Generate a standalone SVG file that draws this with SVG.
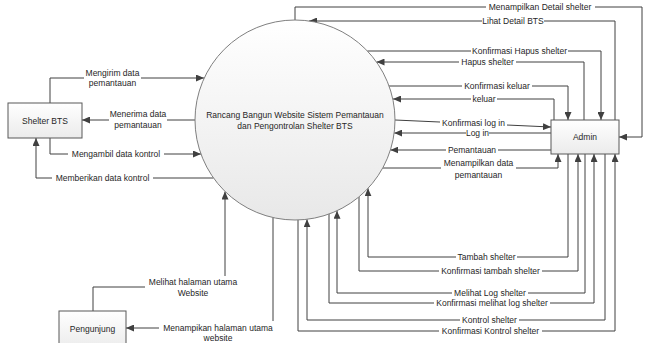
<svg xmlns="http://www.w3.org/2000/svg" width="650" height="343" viewBox="0 0 650 343">
<defs>
<linearGradient id="gc" x1="0" y1="0" x2="0" y2="1"><stop offset="0" stop-color="#ffffff"/><stop offset="1" stop-color="#e8e8e8"/></linearGradient>
<linearGradient id="gb" x1="0" y1="0" x2="0" y2="1"><stop offset="0" stop-color="#ffffff"/><stop offset="1" stop-color="#ebebeb"/></linearGradient>
<marker id="ar" markerWidth="8" markerHeight="7" refX="8" refY="3.5" orient="auto" markerUnits="userSpaceOnUse"><path d="M0,0 L8,3.5 L0,7 z" fill="#404040"/></marker>
</defs>
<style>
text{font-family:"Liberation Sans",Arial,sans-serif;font-size:8.5px;fill:#262626;text-anchor:middle}
.c{fill:none;stroke:#404040;stroke-width:1}
.a{marker-end:url(#ar)}
.bg{fill:#ffffff}
.box{fill:url(#gb);stroke:#595959;stroke-width:1}
</style>
<rect width="650" height="343" fill="#ffffff"/>
<g id="connectors">
<path class="c a" d="M50,103 V78 H204"/>
<path class="c a" d="M195,120 H82"/>
<path class="c a" d="M50,138 V154 H201"/>
<path class="c a" d="M213.5,178 H36 V138"/>
<path class="c a" d="M93,311 V287 H225 V191.5"/>
<path class="c a" d="M273,217.5 V328 H126"/>
<path class="c a" d="M295,20 V7 H642 V137 H619"/>
<path class="c a" d="M615,120 V21 H309"/>
<path class="c a" d="M367.4,51 H601 V120"/>
<path class="c a" d="M584,120 V62 H376.5"/>
<path class="c a" d="M389,86 H568 V120"/>
<path class="c a" d="M554,120 V99 H393"/>
<path class="c a" d="M395,120 L551,127"/>
<path class="c a" d="M551,133 H394.2"/>
<path class="c a" d="M551,150 H390.4"/>
<path class="c a" d="M382.7,168 H558 V154"/>
<path class="c a" d="M568,154 V257 H368 V188.3"/>
<path class="c a" d="M359,196.8 V271 H578 V154"/>
<path class="c a" d="M585,154 V293 H337 V210.8"/>
<path class="c a" d="M329,214 V303 H594 V154"/>
<path class="c a" d="M605,154 V320 H307 V219.3"/>
<path class="c a" d="M298,220 V331 H615 V154"/>
</g>
<g id="labels">
<rect class="bg" x="84" y="67" width="57" height="23"/>
<text x="112.5" y="75.5">Mengirim data</text><text x="112.5" y="86">pemantauan</text>
<rect class="bg" x="109" y="109" width="58" height="23"/>
<text x="138" y="116.5">Menerima data</text><text x="138" y="128">pemantauan</text>
<rect class="bg" x="68" y="149" width="96" height="11"/>
<text x="116" y="157">Mengambil data kontrol</text>
<rect class="bg" x="52" y="173" width="101" height="11"/>
<text x="102.5" y="181">Memberikan data kontrol</text>
<rect class="bg" x="145" y="276" width="96" height="23"/>
<text x="193" y="284.5">Melihat halaman utama</text><text x="193" y="295.5">Website</text>
<rect class="bg" x="159" y="321" width="118" height="24"/>
<text x="218" y="331">Menampikan halaman utama</text><text x="218" y="341">website</text>
<rect class="bg" x="486" y="2" width="109" height="11"/>
<text x="540" y="10">Menampilkan Detail shelter</text>
<rect class="bg" x="482" y="16" width="62" height="11"/>
<text x="513" y="24">Lihat Detail BTS</text>
<rect class="bg" x="471" y="46" width="97" height="11"/>
<text x="519.5" y="54">Konfirmasi Hapus shelter</text>
<rect class="bg" x="459" y="57" width="57" height="11"/>
<text x="487.5" y="65">Hapus shelter</text>
<rect class="bg" x="462" y="81" width="70" height="11"/>
<text x="497" y="89">Konfirmasi keluar</text>
<rect class="bg" x="471" y="94" width="26" height="11"/>
<text x="484" y="102">keluar</text>
<rect class="bg" x="440" y="118" width="67" height="11"/>
<text x="473.5" y="126">Konfirmasi log in</text>
<rect class="bg" x="466" y="129.5" width="23" height="8"/>
<text x="477.5" y="136">Log in</text>
<rect class="bg" x="446" y="145" width="52" height="11"/>
<text x="472" y="153">Pemantauan</text>
<rect class="bg" x="441" y="157" width="75" height="24"/>
<text x="478.5" y="166">Menampilkan data</text><text x="478.5" y="178">pemantauan</text>
<rect class="bg" x="456" y="252" width="61" height="11"/>
<text x="486.5" y="260">Tambah shelter</text>
<rect class="bg" x="439" y="266" width="103" height="11"/>
<text x="490.5" y="274">Konfirmasi tambah shelter</text>
<rect class="bg" x="452" y="288" width="76" height="11"/>
<text x="490" y="296">Melihat Log shelter</text>
<rect class="bg" x="434" y="298" width="116" height="11"/>
<text x="492" y="306">Konfirmasi melihat log shelter</text>
<rect class="bg" x="460" y="315" width="59" height="11"/>
<text x="489.5" y="323">Kontrol shelter</text>
<rect class="bg" x="439" y="326" width="103" height="11"/>
<text x="490.5" y="334">Konfirmasi Kontrol shelter</text>
</g>
<g id="system">
<circle cx="295" cy="120" r="100" fill="url(#gc)" stroke="#7f7f7f" stroke-width="1"/>
<text x="295" y="118">Rancang Bangun Website Sistem Pemantauan</text>
<text x="295" y="128.5">dan Pengontrolan Shelter BTS</text>
</g>
<g id="shelter-bts">
<rect class="box" x="8" y="103" width="74" height="35"/>
<text x="45" y="123.5">Shelter BTS</text>
</g>
<g id="admin">
<rect class="box" x="551" y="120" width="68" height="34"/>
<text x="585" y="140">Admin</text>
</g>
<g id="pengunjung">
<rect class="box" x="59" y="311" width="67" height="38"/>
<text x="92.5" y="332">Pengunjung</text>
</g>
</svg>
